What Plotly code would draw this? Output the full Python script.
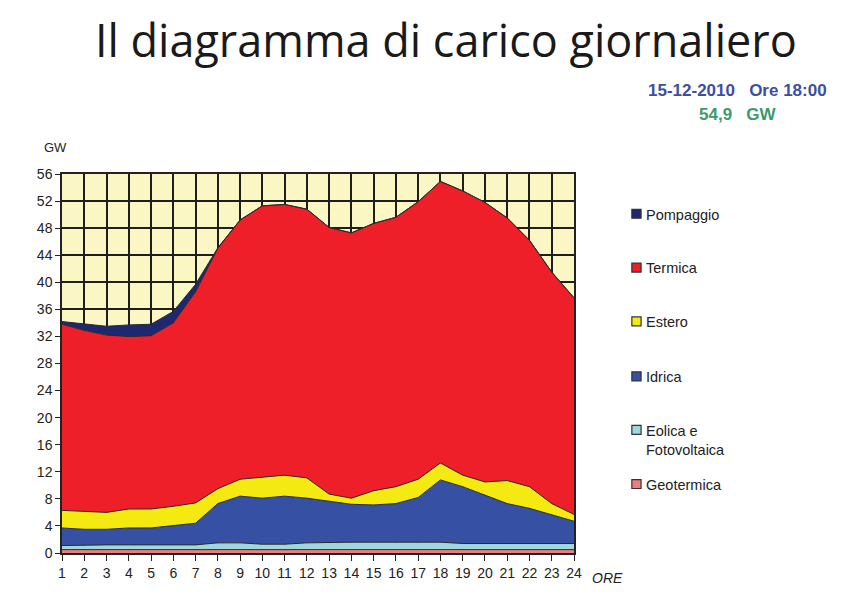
import plotly.graph_objects as go

# ore del giorno
ore = list(range(1, 25))

# produzione per fonte (GW)
geotermica = [0.5] * 24
eolica = [0.6, 0.7, 0.7, 0.7, 0.7, 0.7, 0.7, 1.0, 1.0, 0.8, 0.8, 1.0,
          1.1, 1.1, 1.1, 1.1, 1.1, 1.1, 0.9, 0.9, 0.9, 0.9, 0.9, 0.9]
idrica = [2.6, 2.3, 2.3, 2.5, 2.5, 2.8, 3.2, 5.8, 6.9, 6.8, 7.1, 6.6,
          6.0, 5.6, 5.5, 5.7, 6.6, 9.2, 8.4, 7.2, 5.9, 5.2, 4.2, 3.3]
estero = [2.6, 2.7, 2.5, 2.8, 2.8, 2.9, 3.0, 2.2, 2.5, 3.1, 3.1, 3.0,
          1.1, 0.9, 2.1, 2.5, 2.7, 2.5, 1.7, 1.9, 3.4, 3.2, 1.7, 1.0]
termica = [27.5, 26.7, 26.2, 25.5, 25.6, 27.1, 31.2, 35.5, 38.3, 40.1, 40.0, 39.7,
           39.4, 39.2, 39.5, 39.8, 41.0, 41.6, 42.0, 41.3, 38.8, 36.4, 34.2, 32.0]
pompaggio = [0.4, 0.9, 1.3, 1.7, 1.7, 1.7, 1.1, 0.1, 0.0, 0.0, 0.0, 0.0,
             0.0, 0.0, 0.0, 0.0, 0.0, 0.0, 0.0, 0.0, 0.0, 0.0, 0.0, 0.0]

# (nome, valori, colore, posizione in legenda)
serie = [
    ("Geotermica", geotermica, "#EE7D7D", 0.182),
    ("Eolica e<br>Fotovoltaica", eolica, "#9ED8DA", 0.325),
    ("Idrica", idrica, "#3651A3", 0.466),
    ("Estero", estero, "#F4EA12", 0.611),
    ("Termica", termica, "#EE1F28", 0.753),
    ("Pompaggio", pompaggio, "#1E2870", 0.895),
]

fig = go.Figure()
for nome, valori, colore, _ in serie:
    fig.add_trace(go.Scatter(
        x=ore, y=valori, name=nome, mode="lines",
        stackgroup="one", fillcolor=colore,
        line=dict(color="#2a2a2a", width=1),
        showlegend=False,
    ))

# legenda disegnata a mano: quadratino + testo
for nome, valori, colore, ly in serie:
    fig.add_shape(type="rect", xref="paper", yref="paper",
                  x0=1.113, x1=1.131, y0=ly - 0.0118, y1=ly + 0.0118,
                  fillcolor=colore, line=dict(color="#333333", width=1.2))
    fig.add_annotation(text=nome, x=1.137, y=ly + 0.0245, xref="paper", yref="paper",
                       xanchor="left", yanchor="top", align="left", showarrow=False,
                       font=dict(size=14.5, color="#222222"))

fig.update_layout(
    width=867, height=610,
    paper_bgcolor="white", plot_bgcolor="#FAF7C4",
    margin=dict(l=54, r=301, t=166, b=65),
    font=dict(family="Liberation Sans, Arial", size=13, color="#333333"),
    title=dict(text="Il diagramma di carico giornaliero", x=0.505, xanchor="center",
               y=0.946, yanchor="middle",
               font=dict(family="Open Sans", size=45, color="#1a1a1a")),
    showlegend=False,
)
fig.update_xaxes(range=[1, 24], tickmode="linear", dtick=1, ticks="outside", ticklen=6,
                 tickcolor="#222", showgrid=True, gridcolor="#1e1e1e", gridwidth=1.5,
                 showline=True, linecolor="#222", linewidth=1.5, mirror=True,
                 tickfont=dict(size=14, color="#222"))
fig.update_yaxes(range=[0, 56], tickmode="linear", dtick=4, ticks="outside", ticklen=5,
                 tickcolor="#222", showgrid=True, gridcolor="#1e1e1e", gridwidth=1.5,
                 showline=True, linecolor="#222", linewidth=1.5, mirror=True, zeroline=False,
                 tickfont=dict(size=14, color="#222"))

fig.add_annotation(text="GW", x=-0.039, y=1.069, xref="paper", yref="paper",
                   yanchor="middle", showarrow=False, font=dict(size=13, color="#222"))
fig.add_annotation(text="<i>ORE</i>", x=1.031, y=-0.066, xref="paper", yref="paper",
                   xanchor="left", yanchor="middle", showarrow=False,
                   font=dict(size=14, color="#222"))
fig.add_annotation(text="<b>15-12-2010   Ore 18:00</b>", x=1.498, y=1.2216,
                   xref="paper", yref="paper", xanchor="right", yanchor="middle",
                   showarrow=False, font=dict(size=17, color="#3E4E9F"))
fig.add_annotation(text="<b>54,9   GW</b>", x=1.398, y=1.1557,
                   xref="paper", yref="paper", xanchor="right", yanchor="middle",
                   showarrow=False, font=dict(size=17, color="#3C9A6C"))

fig.write_html("out.html")
